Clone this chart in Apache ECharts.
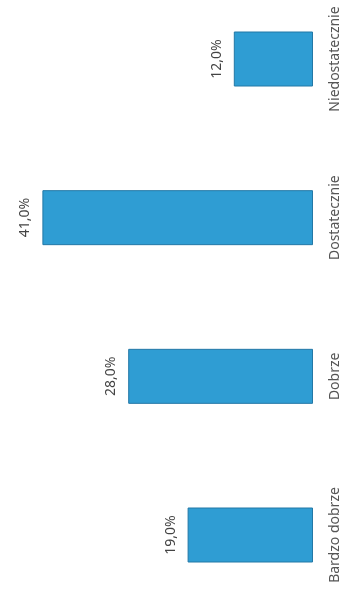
<!DOCTYPE html>
<html>
<head>
<meta charset="utf-8">
<script src="https://cdn.jsdelivr.net/npm/echarts@6/dist/echarts.min.js"></script>
<style>
    html, body { margin: 0; padding: 0; background: #fff; }
    #chart { width: 342px; height: 598px; }
</style>
</head>
<body>
<div id="chart"></div>
<script>
// oceny, kolejnosc od dolu do gory (wykres obrocony)
const categories = ['Bardzo dobrze', 'Dobrze', 'Dostatecznie', 'Niedostatecznie']
const percents = [19.0, 28.0, 41.0, 12.0]

const chart = echarts.init(document.getElementById('chart'))
chart.setOption({
    animation: false,
    grid: {
        left: 16,
        right: 29,
        top: 59,
        bottom: 63
    },
    xAxis: {
        type: 'value',
        inverse: true,
        min: 0,
        max: 45,
        axisLine: { show: false },
        axisTick: { show: false },
        axisLabel: { show: false },
        splitLine: { show: false }
    },
    yAxis: {
        type: 'category',
        position: 'right',
        boundaryGap: false,
        data: categories,
        axisLine: { show: false },
        axisTick: { show: false },
        axisLabel: {
            rotate: 90,
            margin: 15,
            color: '#555',
            fontFamily: 'Noto Sans',
            fontSize: 14
        }
    },
    series: [
        {
            type: 'bar',
            barWidth: 55,
            data: percents,
            itemStyle: {
                color: '#2f9dd3',
                borderColor: '#2378a6',
                borderWidth: 1
            },
            label: {
                show: true,
                position: 'left',
                rotate: 90,
                distance: 10,
                align: 'center',
                verticalAlign: 'bottom',
                color: '#444',
                fontFamily: 'Noto Sans',
                fontSize: 14,
                formatter: p => p.value.toFixed(1).replace('.', ',') + '%'
            }
        }
    ]
})
</script>
</body>
</html>
